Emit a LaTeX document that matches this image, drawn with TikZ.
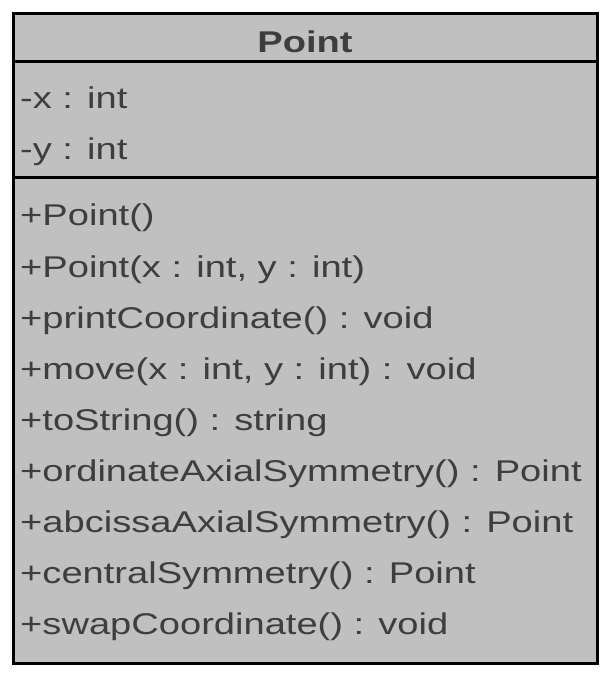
\documentclass[tikz,border=0pt]{standalone}
\usepackage{fontspec}
\setmainfont[FakeStretch=1.27]{Liberation Sans}
\usepackage{tikz}
\usetikzlibrary{positioning}
\usepackage{xcolor}
\definecolor{umlgray}{HTML}{C0C0C0}
\definecolor{umltext}{HTML}{3E3E3E}
\tikzstyle{classbox} = [draw=black, fill=umlgray, line width=3pt, rectangle, inner sep=0pt]
\tikzstyle{classtitle} = [text=umltext, font=\fontsize{30}{36}\selectfont\bfseries, inner sep=0pt, anchor=base]
\tikzstyle{member} = [text=umltext, font=\fontsize{30}{36}\selectfont, inner sep=0pt, anchor=base west]
\tikzstyle{divider} = [draw=black, line width=3pt]

\begin{document}
\begin{tikzpicture}[x=1pt,y=-1pt]
\useasboundingbox (0,0) rectangle (615,684);
\node[classbox, minimum width=583.5pt, minimum height=649.5pt, anchor=north west] (box) at (12,12) {};
\node[classtitle] (title) at (305,53) {Point};
% compartments
\coordinate (attrtop) at (12,62);
\coordinate (methtop) at (598,178);
\draw[divider] (box.west |- attrtop) -- (box.east |- attrtop);
\draw[divider] (box.west |- methtop) -- (methtop);
% attributes
\node[member] (a1) at (20,109) {-x : int};
\node[member] (a2) at (20,160) {-y : int};
% operations
\foreach \txt [count=\i] in {+Point(), {+Point(x : int, y : int)}, +printCoordinate() : void,
    {+move(x : int, y : int) : void}, +toString() : string, +ordinateAxialSymmetry() : Point,
    +abcissaAxialSymmetry() : Point, +centralSymmetry() : Point, +swapCoordinate() : void}
  \node[member] (m\i) at (20,{175+51*\i}) {\txt};
\end{tikzpicture}
\end{document}
